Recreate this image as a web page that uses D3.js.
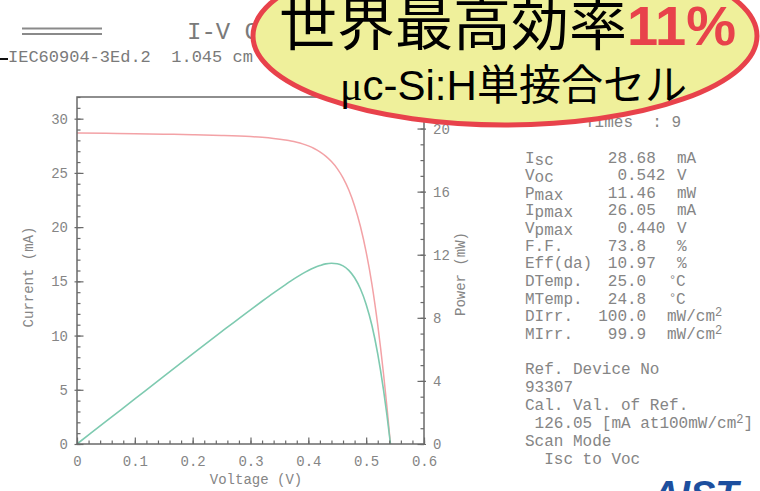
<!DOCTYPE html>
<html>
<head>
<meta charset="utf-8">
<script src="https://cdn.jsdelivr.net/npm/d3@7"></script>
<style>
  body { margin: 0; background: #fff; }
  svg { display: block; }
</style>
</head>
<body>
<svg id="chart" width="760" height="491"></svg>
<script>
// ---- measured I-V sweep (Isc -> Voc) ----
const voltage = [0, 0.05, 0.10, 0.15, 0.20, 0.25, 0.30, 0.32, 0.34, 0.36, 0.37, 0.38, 0.39, 0.40, 0.41, 0.42, 0.43, 0.44, 0.45, 0.46, 0.47, 0.48, 0.49, 0.50, 0.51, 0.52, 0.53, 0.536, 0.542];
const current = [28.68, 28.65, 28.61, 28.57, 28.53, 28.46, 28.35, 28.28, 28.18, 28.04, 27.95, 27.83, 27.68, 27.49, 27.25, 26.94, 26.55, 26.05, 25.40, 24.54, 23.42, 21.95, 20.08, 17.70, 14.73, 10.98, 6.48, 3.38, 0];
const power   = [0, 1.43, 2.86, 4.29, 5.71, 7.12, 8.51, 9.05, 9.58, 10.09, 10.34, 10.58, 10.80, 11.00, 11.17, 11.31, 11.42, 11.46, 11.43, 11.29, 11.01, 10.54, 9.84, 8.85, 7.51, 5.71, 3.43, 1.81, 0];

// ---- axis ticks ----
const xTicks = [0, 0.1, 0.2, 0.3, 0.4, 0.5, 0.6];
const xTickLabels = ["0", "0.1", "0.2", "0.3", "0.4", "0.5", "0.6"];
const currentTicks = [0, 5, 10, 15, 20, 25, 30];
const currentTickLabels = ["0", "5", "10", "15", "20", "25", "30"];
const powerTicks = [0, 4, 8, 12, 16, 20];
const powerTickLabels = ["0", "4", "8", "12", "16", "20"];

// ---- measurement summary ----
const paramNames  = ["I", "V", "P", "I", "V", "F.F.", "Eff(da)", "DTemp.", "MTemp.", "DIrr.", "MIrr."];
const paramSubs   = ["sc", "oc", "max", "pmax", "pmax", "", "", "", "", "", ""];
const paramValues = ["28.68", "0.542", "11.46", "26.05", "0.440", "73.8", "10.97", "25.0", "24.8", "100.0", "99.9"];
const paramUnits  = ["mA", "V", "mW", "mA", "V", "%", "%", "°C", "°C", "mW/cm²", "mW/cm²"];
const refLines  = ["Ref. Device No", "93307", "Cal. Val. of Ref.", "126.05 [mA at100mW/cm²]", "Scan Mode", "Isc to Voc"];
const refIndent = [0, 0, 0, 1, 0, 2];

const svg = d3.select("#chart");
const MONO = "'Liberation Mono', 'DejaVu Sans Mono', monospace";
const CJK = "'Noto Sans CJK JP', 'Noto Sans CJK SC', sans-serif";
const SANS = "'Liberation Sans', Arial, sans-serif";
const GREY = "#858585";
const AXIS = "#6a6a6a";
const RED = "#e8424b";

const plot = { left: 77, right: 424, top: 97, bottom: 444 };
const x = d3.scaleLinear().domain([0, 0.6]).range([plot.left, plot.right]);
const yI = d3.scaleLinear().domain([0, 32]).range([plot.bottom, plot.top]);
const yP = d3.scaleLinear().domain([0, 22]).range([plot.bottom, plot.top]);

// ---- header ----
const head = svg.append("g");
head.append("line").attr("x1", 22).attr("x2", 102).attr("y1", 28.5).attr("y2", 28.5)
  .attr("stroke", "#8a8a8a").attr("stroke-width", 2);
head.append("line").attr("x1", 22).attr("x2", 102).attr("y1", 34).attr("y2", 34)
  .attr("stroke", "#8a8a8a").attr("stroke-width", 2);
head.append("text").attr("x", 187).attr("y", 39)
  .attr("font-family", MONO).attr("font-size", 24).attr("fill", "#7a7a7a")
  .text("I-V Curve");
head.append("line").attr("x1", 0).attr("x2", 8).attr("y1", 59).attr("y2", 59)
  .attr("stroke", "#111").attr("stroke-width", 2);
head.append("text").attr("x", 8).attr("y", 61.5)
  .attr("font-family", MONO).attr("font-size", 17).attr("fill", "#7a7a7a")
  .style("white-space", "pre")
  .text("IEC60904-3Ed.2  1.045 cm");

// ---- curves ----
const pts = voltage.map((v, i) => ({ v, i: current[i], p: power[i] }));
svg.append("path").datum(pts)
  .attr("fill", "none").attr("stroke", "#f3a2a6").attr("stroke-width", 1.5)
  .attr("d", d3.line().x(d => x(d.v)).y(d => yI(d.i)).curve(d3.curveMonotoneX));
svg.append("path").datum(pts)
  .attr("fill", "none").attr("stroke", "#7ecab0").attr("stroke-width", 1.6)
  .attr("d", d3.line().x(d => x(d.v)).y(d => yP(d.p)).curve(d3.curveMonotoneX));

// ---- axes ----
function styleAxis(g) {
  g.select(".domain").remove();
  g.selectAll("line").attr("stroke", AXIS).attr("stroke-width", 1.2);
  g.selectAll("text").attr("font-family", MONO).attr("font-size", 14).attr("fill", GREY);
}
const minorX = d3.range(0, 0.6001, 0.02);
const minorI = d3.range(0, 32.001, 1);
const minorP = d3.range(0, 22.001, 1);

// bottom
svg.append("g").attr("transform", `translate(0,${plot.bottom})`)
  .call(d3.axisBottom(x).tickValues(minorX).tickSizeInner(-3.5).tickSizeOuter(0).tickFormat(""))
  .call(styleAxis);
svg.append("g").attr("transform", `translate(0,${plot.bottom})`)
  .call(d3.axisBottom(x).tickValues(xTicks).tickSizeInner(-6.5).tickSizeOuter(0).tickPadding(12)
    .tickFormat((d, i) => xTickLabels[i]))
  .call(styleAxis);
// left
svg.append("g").attr("transform", `translate(${plot.left},0)`)
  .call(d3.axisLeft(yI).tickValues(minorI).tickSizeInner(-3.5).tickSizeOuter(0).tickFormat(""))
  .call(styleAxis);
svg.append("g").attr("transform", `translate(${plot.left},0)`)
  .call(d3.axisLeft(yI).tickValues(currentTicks).tickSizeInner(2.5).tickSizeOuter(0).tickFormat(""))
  .call(styleAxis);
svg.append("g").attr("transform", `translate(${plot.left},0)`)
  .call(d3.axisLeft(yI).tickValues(currentTicks).tickSizeInner(-6.5).tickSizeOuter(0).tickPadding(9)
    .tickFormat((d, i) => currentTickLabels[i]))
  .call(styleAxis);
// right
svg.append("g").attr("transform", `translate(${plot.right},0)`)
  .call(d3.axisRight(yP).tickValues(minorP).tickSizeInner(-3.5).tickSizeOuter(0).tickFormat(""))
  .call(styleAxis);
svg.append("g").attr("transform", `translate(${plot.right},0)`)
  .call(d3.axisRight(yP).tickValues(powerTicks).tickSizeInner(2).tickSizeOuter(0).tickFormat(""))
  .call(styleAxis);
svg.append("g").attr("transform", `translate(${plot.right},0)`)
  .call(d3.axisRight(yP).tickValues(powerTicks).tickSizeInner(-6.5).tickSizeOuter(0).tickPadding(9)
    .tickFormat((d, i) => powerTickLabels[i]))
  .call(styleAxis);

// frame
svg.append("rect")
  .attr("x", plot.left).attr("y", plot.top)
  .attr("width", plot.right - plot.left).attr("height", plot.bottom - plot.top)
  .attr("fill", "none").attr("stroke", AXIS).attr("stroke-width", 1.5);

// axis titles
svg.append("text").attr("transform", "translate(29,277) rotate(-90)")
  .attr("text-anchor", "middle").attr("dominant-baseline", "central")
  .attr("font-family", MONO).attr("font-size", 14).attr("fill", GREY)
  .text("Current (mA)");
svg.append("text").attr("transform", "translate(461,274) rotate(-90)")
  .attr("text-anchor", "middle").attr("dominant-baseline", "central")
  .attr("font-family", MONO).attr("font-size", 14).attr("fill", GREY)
  .text("Power (mW)");
svg.append("text").attr("x", 256).attr("y", 484)
  .attr("text-anchor", "middle")
  .attr("font-family", MONO).attr("font-size", 14).attr("fill", GREY)
  .text("Voltage (V)");

// ---- summary table ----
function addSup(sel, str) {
  const parts = str.split("²");
  sel.append("tspan").text(parts[0]);
  if (parts.length > 1) {
    sel.append("tspan").attr("font-size", 12).attr("dy", -5).text("2");
    if (parts[1]) sel.append("tspan").attr("dy", 5).text(parts[1]);
  }
}
const table = svg.append("g").attr("font-family", MONO).attr("font-size", 16).attr("fill", GREY);
table.append("text").attr("x", 585).attr("y", 127).style("white-space", "pre").text("Times  : 9");

const rowY = i => 162.5 + i * 17.65;
const dotX = 627;
paramNames.forEach((name, i) => {
  const t = table.append("text").attr("x", 525).attr("y", rowY(i));
  t.append("tspan").text(name);
  if (paramSubs[i]) t.append("tspan").attr("dy", 2).text(paramSubs[i]);
  const [intPart, frac] = paramValues[i].split(".");
  table.append("text").attr("x", dotX).attr("y", rowY(i)).attr("text-anchor", "end").text(intPart);
  table.append("text").attr("x", dotX).attr("y", rowY(i)).text("." + frac);
  const u = paramUnits[i];
  if (u === "°C") {
    table.append("text").attr("x", 669).attr("y", rowY(i)).attr("font-size", 12).attr("dy", -2).text("°");
    table.append("text").attr("x", 676).attr("y", rowY(i)).text("C");
  } else {
    const ux = u.startsWith("mW/") ? 667 : 677;
    addSup(table.append("text").attr("x", ux).attr("y", rowY(i)), u);
  }
});
refLines.forEach((line, i) => {
  addSup(table.append("text").attr("x", 525 + refIndent[i] * 9.6).attr("y", 374 + i * 18), line);
});

// ---- headline balloon ----
const badge = svg.append("g");
badge.append("ellipse").attr("cx", 505).attr("cy", 36).attr("rx", 252).attr("ry", 89)
  .attr("fill", "#eff09b").attr("stroke", RED).attr("stroke-width", 5);
badge.append("text").attr("x", 279).attr("y", 45)
  .attr("font-family", CJK).attr("font-size", 58).attr("fill", "#000")
  .text("世界最高効率");
badge.append("text").attr("x", 627).attr("y", 45)
  .attr("font-family", SANS).attr("font-weight", "bold")
  .attr("font-size", 56).attr("fill", RED).text("11%");
const l2 = badge.append("text").attr("x", 340).attr("y", 100).attr("font-size", 42).attr("fill", "#000");
l2.append("tspan").attr("font-family", "'Liberation Serif', serif").text("μ");
l2.append("tspan").attr("font-family", SANS).text("c-Si:H");
l2.append("tspan").attr("font-family", CJK).text("単接合セル");

// ---- logo ----
svg.append("text").attr("x", 652).attr("y", 508)
  .attr("font-family", SANS).attr("font-weight", "bold")
  .attr("font-style", "italic").attr("font-size", 38).attr("fill", "#1d4f9e")
  .text("AIST");
</script>
</body>
</html>
